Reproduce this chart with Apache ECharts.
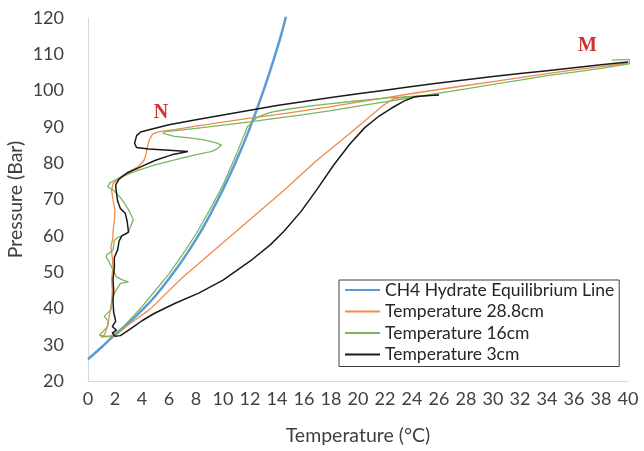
<!DOCTYPE html>
<html><head><meta charset="utf-8">
<script src="https://cdn.jsdelivr.net/npm/echarts@6/dist/echarts.min.js"></script>
<style>html,body{margin:0;padding:0;background:#fff}#c{width:644px;height:451px}</style>
</head><body><div id="c"></div>
<script>
var xTicks = [0,2,4,6,8,10,12,14,16,18,20,22,24,26,28,30,32,34,36,38,40];
var yTicks = [20,30,40,50,60,70,80,90,100,110,120];
var seriesNames = ['CH4 Hydrate Equilibrium Line','Temperature 28.8cm','Temperature 16cm','Temperature 3cm'];

var equilibrium = [[0,26],[1,29.3],[2,32.8],[3,36],[4,39.5],[5,43.5],[6,48.2],[7,53.3],[8,59],[9,65.5],[10,72.8],[11,80.8],[12,89.8],[13,100],[14,111.5],[14.5,118],[14.7,121]];

var t288 = [[40,107.6],[38,106.6],[36,105.7],[34,104.7],[32,103.6],[30,102.5],[28,101.4],[26,100.3],[24,99.2],[22,98],[20,96.8],[18,95.6],[16,94.5],[14,93.4],[12,92.4],[10,91.3],[8,90.2],[6.5,89.3],[5.3,88.7],[4.8,88.1],[4.55,86.5],[4.4,84.5],[4.3,82.5],[4.15,80.8],[3.7,79],[3.0,77.6],[2.3,76],[1.85,74.3],[1.75,72.5],[1.85,70],[2.0,67],[1.95,64],[1.85,61],[1.85,59.5],[1.7,57],[1.8,54],[1.85,51.5],[1.75,48],[1.8,45],[1.75,41.5],[1.6,38.5],[1.5,36],[1.35,34],[1.2,32.6],[0.95,32.1],[1.6,32.3],[2.2,33],[3,35.5],[4.6,39.8],[7,48.5],[9.5,56.5],[12,64.5],[14.5,72.5],[16.9,80.6],[19.5,88.5],[21.9,96],[22.6,97.7],[23.5,98.2],[25,98.5]];

var t16 = [[38.8,108.4],[40.1,108.6],[40.1,107.4],[38,106.1],[36,105.1],[34,104.1],[32,102.9],[30,101.7],[28,100.5],[26,99.3],[24,98.1],[22,96.9],[20,95.7],[18,94.5],[16,93.4],[14,92.4],[12,91.4],[10,90.5],[8,89.6],[6.5,89],[5.7,88.7],[5.55,88.2],[6.4,87.4],[7.5,87],[8.6,86.4],[9.5,85.6],[9.9,85],[9.5,83.8],[9.1,83.2],[8.2,82.5],[7.4,81.8],[6.2,80.7],[4.9,79.5],[3.7,78],[2.5,76.3],[1.6,74.5],[1.45,73.5],[1.9,72.5],[2.4,70.5],[2.7,69],[3.1,66.5],[3.35,64.5],[3.1,62],[2.95,60.7],[2.2,59.5],[1.95,58.7],[1.85,56],[1.4,54.8],[1.35,54],[1.5,53.3],[1.8,51],[2.1,48.7],[2.6,47.8],[3.0,47.3],[2.4,46.9],[2.0,44.5],[1.75,42],[1.7,39.6],[1.2,37.8],[1.5,36.5],[1.45,35],[1.1,33.6],[0.85,32.6],[1.3,32.3],[2.0,32.5],[3,36.5],[4,40.5],[5,45],[6,49.5],[7,54.8],[8,60.5],[9,67],[10,74],[11,82.5],[11.8,90],[12.5,92.6],[13.5,94],[15,95],[17,96],[19.5,97],[22,97.9],[24,98.4],[26,98.8]];

var t3 = [[40.0,107.9],[38,107.1],[36,106.3],[34,105.5],[32,104.7],[30,103.9],[28,103],[26,102.1],[24,101.1],[22,100.1],[20,99.1],[18,98.1],[16,97],[14,95.9],[12,94.6],[10,93.3],[8,92],[6,90.6],[4.6,89.3],[3.9,88.6],[3.6,87.6],[3.45,85.5],[3.6,84.3],[4.5,83.9],[6,83.6],[7.4,83.2],[6.2,82.3],[5,80.8],[3.9,79],[2.9,77.3],[2.3,75.6],[2.05,74],[2.1,72],[2.2,69.5],[2.4,67.5],[2.75,66.3],[2.9,64],[3.0,61],[2.5,60],[2.3,58.5],[2.2,56.2],[1.95,54],[1.95,51],[1.85,48],[1.9,45],[1.85,42],[1.9,39],[2.05,36.5],[1.8,35],[2.1,34],[1.8,33.2],[2.0,32.3],[2.4,32.5],[3.2,34.5],[4.0,36.6],[4.9,38.6],[6.5,41.5],[8.2,44.2],[10,47.8],[12,53],[13.5,57.5],[14.5,61.2],[15.8,66.8],[17,73],[18.2,79.5],[19.4,85.3],[20.5,89.8],[21.5,92.8],[22.5,95.2],[23.4,97.1],[24.2,98.3],[25,98.6],[26,98.8]];

var pointLabels = [{name:'N', value:[5.4,93.8]},{name:'M', value:[37.0,112.3]}];

var FONT = 'Lato';
var chart = echarts.init(document.getElementById('c'), null, {renderer:'canvas'});
chart.setOption({
  animation:false,
  backgroundColor:'#fff',
  textStyle:{fontFamily:FONT},
  grid:{left:88,right:16,top:18,bottom:70,containLabel:false,outerBoundsMode:'none'},
  xAxis:{type:'value',min:0,max:40,interval:2,
    name:'Temperature (°C)',nameLocation:'middle',nameGap:45,nameMoveOverlap:false,
    nameTextStyle:{fontFamily:FONT,fontSize:19.5,color:'#404040'},
    axisLine:{show:true,lineStyle:{color:'#d9d9d9',width:1}},
    axisTick:{show:false},splitLine:{show:false},
    axisLabel:{fontFamily:FONT,fontSize:18,color:'#404040',margin:9,
      formatter:function(v){return xTicks.indexOf(v)>=0?String(v):'';}}},
  yAxis:{type:'value',min:20,max:120,interval:10,
    name:'Pressure (Bar)',nameLocation:'middle',nameGap:62,nameRotate:90,nameMoveOverlap:false,
    nameTextStyle:{fontFamily:FONT,fontSize:19.5,color:'#404040'},
    axisLine:{show:true,lineStyle:{color:'#d9d9d9',width:1}},
    axisTick:{show:false},splitLine:{show:false},
    axisLabel:{fontFamily:FONT,fontSize:18,color:'#404040',margin:24,
      formatter:function(v){return yTicks.indexOf(v)>=0?String(v):'';}}},
  legend:{
    data:seriesNames, orient:'vertical', left:339, top:280,
    backgroundColor:'#fff', borderColor:'#404040', borderWidth:1,
    padding:[0,5,2,6], itemGap:1.5, itemWidth:35, itemHeight:2, icon:'rect',
    textStyle:{fontFamily:FONT,fontSize:17.5,color:'#262626',lineHeight:20,padding:[0,0,0,0]}
  },
  series:[
    {name:seriesNames[0],type:'line',data:equilibrium,smooth:true,showSymbol:false,symbol:'none',
     lineStyle:{color:'#5B9BD5',width:2.5},itemStyle:{color:'#5B9BD5'},z:3},
    {name:seriesNames[1],type:'line',data:t288,showSymbol:false,symbol:'none',
     lineStyle:{color:'#F08A4B',width:1.3},itemStyle:{color:'#F08A4B'},z:4},
    {name:seriesNames[2],type:'line',data:t16,showSymbol:false,symbol:'none',
     lineStyle:{color:'#7BB661',width:1.3},itemStyle:{color:'#7BB661'},z:5},
    {name:seriesNames[3],type:'line',data:t3,showSymbol:false,symbol:'none',
     lineStyle:{color:'#1a1a1a',width:1.5},itemStyle:{color:'#1a1a1a'},z:6},
    {name:'labels',type:'scatter',data:pointLabels,symbolSize:0,silent:true,
     label:{show:true,position:'inside',formatter:function(p){return p.name;},
       fontFamily:'Liberation Serif',fontWeight:'bold',fontSize:20,color:'#C00000'}}
  ]
});
</script></body></html>
